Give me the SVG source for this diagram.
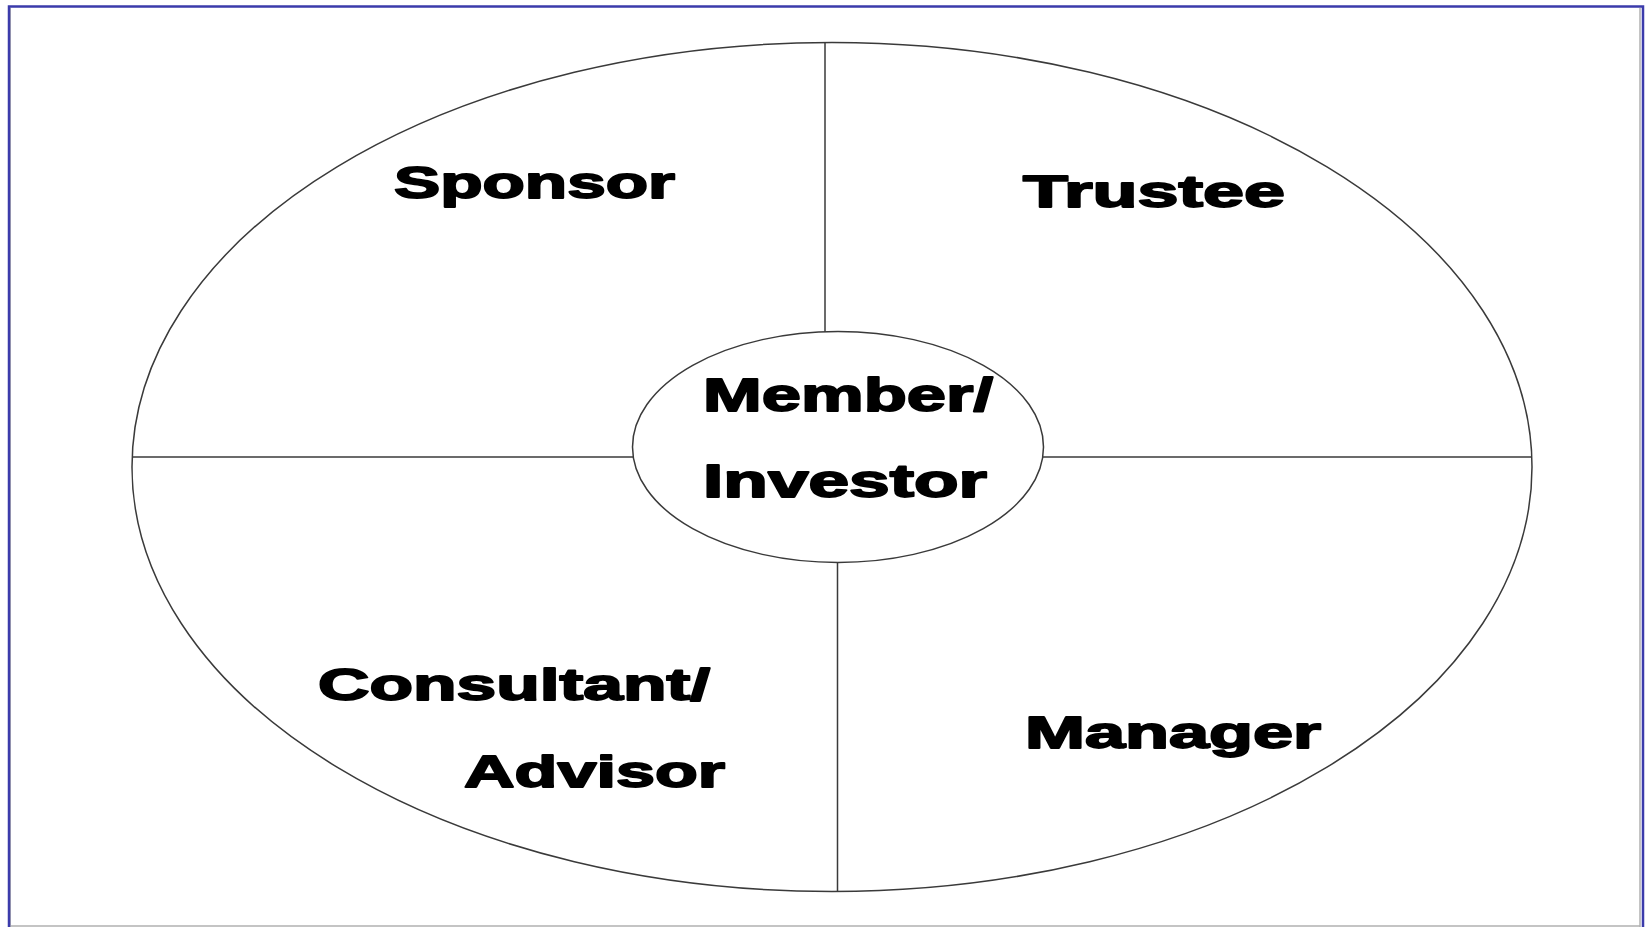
<svg xmlns="http://www.w3.org/2000/svg" width="1649" height="927" viewBox="0 0 1649 927">
<style>
.line{stroke:#3a3a3a;stroke-width:1.5;fill:none}
.shape{stroke:#3a3a3a;stroke-width:1.5;fill:#ffffff}
.lbl{font-family:"Liberation Sans",Arial,sans-serif;font-weight:bold;fill:#000;stroke:#000;stroke-width:1.8;stroke-linejoin:round}
</style>
<rect x="0" y="0" width="1649" height="927" fill="#ffffff"/>
<g id="frame">
<line x1="10.5" y1="926" x2="1640" y2="926" stroke="#b0b0b0" stroke-width="1.5"/>
<line x1="1640" y1="8" x2="1640" y2="927" stroke="#b0b0b0" stroke-width="1.5"/>
<line x1="10.5" y1="8" x2="10.5" y2="927" stroke="#b0b0b0" stroke-width="1"/>
<path d="M9 927 V6.5 H1643 V927" fill="none" stroke="#3b3bab" stroke-width="2.5"/>
</g>
<g id="outer">
<ellipse cx="832" cy="467" rx="700" ry="424.5" class="shape"/>
</g>
<g id="connectors">
<line x1="825" y1="42.5" x2="825" y2="332" class="line"/>
<line x1="132.5" y1="457" x2="633" y2="457" class="line"/>
<line x1="1043" y1="457" x2="1531.5" y2="457" class="line"/>
<line x1="837.5" y1="562" x2="837.5" y2="891" class="line"/>
</g>
<g id="member">
<ellipse cx="838" cy="447" rx="205.5" ry="115.5" class="shape"/>
<text x="703" y="411" class="lbl" font-size="47" textLength="290" lengthAdjust="spacingAndGlyphs">Member/</text>
<text x="703" y="497" class="lbl" font-size="46" textLength="284" lengthAdjust="spacingAndGlyphs">Investor</text>
</g>
<g id="sponsor">
<text x="394" y="198" class="lbl" font-size="45" textLength="281" lengthAdjust="spacingAndGlyphs">Sponsor</text>
</g>
<g id="trustee">
<text x="1023" y="207" class="lbl" font-size="45" textLength="262" lengthAdjust="spacingAndGlyphs">Trustee</text>
</g>
<g id="consultant">
<text x="318" y="700" class="lbl" font-size="45" textLength="392" lengthAdjust="spacingAndGlyphs">Consultant/</text>
<text x="464" y="787" class="lbl" font-size="45" textLength="261" lengthAdjust="spacingAndGlyphs">Advisor</text>
</g>
<g id="manager">
<text x="1025" y="748" class="lbl" font-size="45" textLength="296" lengthAdjust="spacingAndGlyphs">Manager</text>
</g>
</svg>
